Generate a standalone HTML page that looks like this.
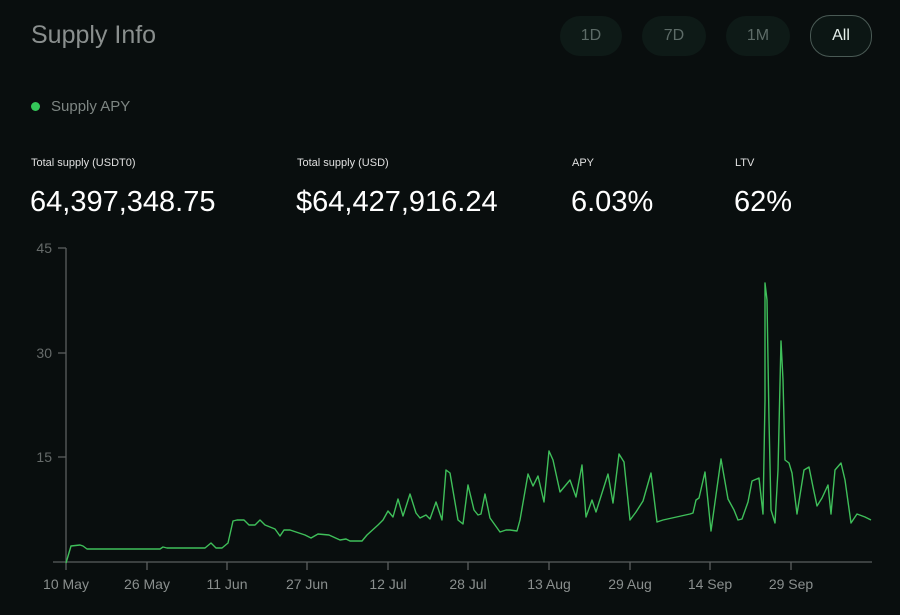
<!DOCTYPE html>
<html><head><meta charset="utf-8"><style>
body{margin:0;width:900px;height:615px;background:#090e0e;font-family:"Liberation Sans",sans-serif;overflow:hidden;position:relative;color:#fff}
.t{position:absolute;white-space:nowrap}
.btn{position:absolute;top:16px;height:40px;border-radius:20px;background:#0e1a17;color:#5d6b67;font-size:16px;line-height:40px;text-align:center}
</style></head><body>
<div class="t" style="left:31px;top:21px;font-size:25px;color:#8a8f8e">Supply Info</div>
<div class="btn" style="left:560px;width:62px">1D</div>
<div class="btn" style="left:642px;width:64px">7D</div>
<div class="btn" style="left:726px;width:64px">1M</div>
<div class="btn" style="left:810px;width:60px;border:1px solid #4a5a55;top:15px;color:#e6f0ec;background:#0c1614">All</div>
<div style="position:absolute;left:31px;top:102px;width:9px;height:9px;border-radius:50%;background:#34c759"></div>
<div class="t" style="left:51px;top:98px;font-size:15px;color:#7d8582">Supply APY</div>
<div class="t" style="left:31px;top:157px;font-size:11px;color:#e0e0e0">Total supply (USDT0)</div>
<div class="t" style="left:297px;top:157px;font-size:11px;color:#e0e0e0">Total supply (USD)</div>
<div class="t" style="left:572px;top:157px;font-size:11px;color:#e0e0e0">APY</div>
<div class="t" style="left:735px;top:157px;font-size:11px;color:#e0e0e0">LTV</div>
<div class="t" style="left:30px;top:186px;font-size:29px">64,397,348.75</div>
<div class="t" style="left:296px;top:186px;font-size:29px">$64,427,916.24</div>
<div class="t" style="left:571px;top:186px;font-size:29px">6.03%</div>
<div class="t" style="left:734px;top:186px;font-size:29px">62%</div>
<svg width="900" height="615" style="position:absolute;left:0;top:0" font-family="Liberation Sans,sans-serif">
<g stroke="#5a5f5f" stroke-width="1.3" fill="none">
<line x1="66" y1="248" x2="66" y2="562"/>
<line x1="53" y1="562" x2="872" y2="562"/>
<line x1="58" y1="248" x2="66" y2="248"/><line x1="58" y1="353" x2="66" y2="353"/><line x1="58" y1="457" x2="66" y2="457"/>
<path d="M66 562v8M147 562v8M227 562v8M307 562v8M388 562v8M468 562v8M549 562v8M630 562v8M710 562v8M791 562v8"/>
</g>
<g fill="#666b6a" font-size="14">
<text x="52" y="253" text-anchor="end">45</text><text x="52" y="358" text-anchor="end">30</text><text x="52" y="462" text-anchor="end">15</text>
</g>
<g fill="#8a8f8e" font-size="14" text-anchor="middle">
<text x="66" y="589">10 May</text><text x="147" y="589">26 May</text><text x="227" y="589">11 Jun</text><text x="307" y="589">27 Jun</text><text x="388" y="589">12 Jul</text><text x="468" y="589">28 Jul</text><text x="549" y="589">13 Aug</text><text x="630" y="589">29 Aug</text><text x="710" y="589">14 Sep</text><text x="791" y="589">29 Sep</text>
</g>
<polyline fill="none" stroke="#3fbf5a" stroke-width="1.4" stroke-linejoin="round" points="66,563 71,546 80,545 83,546 87,549 160,549 163,547 167,548 205,548 211,543 216,548 222,548 228,543 233,521 237,520 244,520 249,525 255,525 260,520 265,525 275,529 280,536 284,530 290,530 305,535 311,538 318,534 329,535 340,540 346,539 350,541 362,541 367,535 378,525 383,520 388,511 393,517 398,499 403,516 410,494 416,513 420,518 426,515 430,519 436,502 442,520 446,470 450,473 458,520 463,524 468,485 474,510 478,515 481,514 485,494 490,518 500,532 506,530 510,530 517,531 520,520 528,474 533,486 538,476 544,502 549,451 553,460 560,492 570,480 576,497 582,465 586,517 592,500 596,512 608,474 613,503 619,454 624,462 630,520 636,512 643,501 651,473 657,522 663,520 690,514 693,513 696,500 699,498 705,472 711,531 721,459 728,499 734,510 738,520 742,519 748,502 752,481 759,478 763,514 765,400 765,283 767,300 769,420 771,510 775,523 778,470 781,341 783,380 785,460 789,463 792,473 797,514 804,470 809,467 813,487 817,506 822,498 828,485 831,514 835,470 841,463 845,480 851,523 857,514 865,517 871,520"/>
</svg>
</body></html>
